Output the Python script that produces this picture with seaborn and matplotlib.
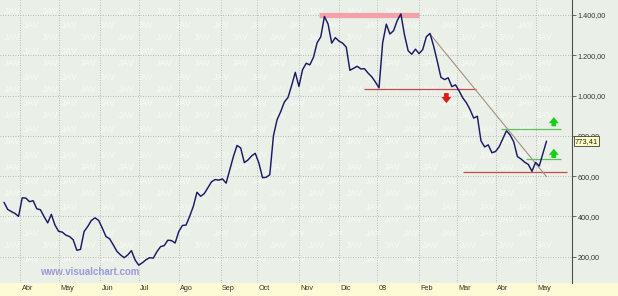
import numpy as np
import pandas as pd
import matplotlib
matplotlib.use("Agg")
import matplotlib.pyplot as plt
import seaborn as sns
from matplotlib.transforms import blended_transform_factory, offset_copy
from matplotlib.patches import Rectangle

# ---------------- data ----------------
start_date = "2007-03-20"      # first session shown
step_sessions = 2              # one reading every two sessions
values = [
    470, 435, 424, 415, 400, 492, 491, 473, 478, 438,
    433, 399, 368, 410, 357, 326, 322, 307, 300, 284,
    232, 236, 325, 350, 380, 393, 380, 342, 300, 289,
    259, 227, 209, 195, 209, 230, 184, 158, 170, 185,
    195, 193, 225, 250, 255, 282, 280, 268, 325, 355,
    357, 401, 450, 520, 500, 513, 543, 572, 583, 580,
    586, 565, 630, 697, 752, 740, 667, 680, 700, 713,
    665, 592, 594, 607, 800, 880, 920, 968, 990, 1050,
    1115, 1045, 1128, 1160, 1152, 1190, 1262, 1291, 1392, 1355,
    1260, 1287, 1270, 1260, 1240, 1125, 1135, 1145, 1132, 1133,
    1111, 1093, 1067, 1038, 1262, 1354, 1305, 1322, 1372, 1405,
    1300, 1222, 1205, 1230, 1208, 1228, 1292, 1308, 1245, 1170,
    1090, 1079, 1088, 1044, 1053, 1023, 988, 964, 930, 888,
    897, 775, 745, 755, 716, 722, 746, 785, 825, 804,
    770, 697, 685, 669, 658, 624, 668, 650, 712, 773.41,
]
last_price = 773.41
month_starts = ["2007-04-01", "2007-05-01", "2007-06-01", "2007-07-01", "2007-08-01",
                "2007-09-01", "2007-10-01", "2007-11-01", "2007-12-01", "2008-01-01",
                "2008-02-01", "2008-03-01", "2008-04-01", "2008-05-01"]
month_labels = ["Abr", "May", "Jun", "Jul", "Ago", "Sep", "Oct", "Nov", "Dic", "08",
                "Feb", "Mar", "Abr", "May"]
y_ticks = [200, 400, 600, 800, 1000, 1200, 1400]

# drawn studies: (start date, end date, level)
resistance_band = ("2007-11-16", "2008-02-01", 1400)
support_1 = ("2007-12-21", "2008-03-17", 1031)
support_2 = ("2008-03-06", "2008-05-26", 619)
green_1 = ("2008-04-04", "2008-05-21", 832)
green_2 = ("2008-04-24", "2008-05-21", 683)
trend_line = (("2008-02-11", 1305), ("2008-05-09", 597))
red_arrow = ("2008-02-22", 1012, 962)
green_arrows = [("2008-05-15", 847, 893), ("2008-05-15", 690, 736)]

# ---------------- helpers ----------------
calendar = pd.bdate_range(start_date, periods=330)
def pos(d):
    return int(np.searchsorted(calendar, pd.Timestamp(d)))

x_idx = np.arange(len(values)) * step_sessions
df = pd.DataFrame({"x": x_idx, "price": values})

def es_fmt(v):
    s = f"{v:,.2f}"
    return s.replace(",", "X").replace(".", ",").replace("X", ".")

# ---------------- style ----------------
sns.set_style("white")
plt.rcParams["font.family"] = ["Liberation Sans", "DejaVu Sans"]

BG = "#eaf0e7"
STRIP = "#fdfbd6"
W, H = 618, 296

fig = plt.figure(figsize=(W / 100, H / 100), dpi=100)
fig.patch.set_facecolor(BG)
fig.patches.append(Rectangle((0, 0), 1, 13 / H, transform=fig.transFigure,
                             facecolor=STRIP, edgecolor="none", zorder=-3))

# faint watermark inside the plotting area
for r, yy in enumerate(np.arange(H - 12, 30, -13)):
    off = 0 if r % 2 == 0 else 19
    for xx in np.arange(4 + off, 545, 38):
        if 30 < xx < 140 and yy < 36:
            continue
        fig.text(xx / W, yy / H, "JAV", color="white", alpha=0.45, fontsize=6.5,
                 fontweight="bold", zorder=-1, ha="left", va="center")

ax = fig.add_axes([0, 13 / H, 572 / W, 283 / H])
ax.set_facecolor("none")

sns.lineplot(data=df, x="x", y="price", ax=ax, color="#1a1a66", linewidth=1.05, zorder=4)

ax.set_xlim(-2.2, 312)
ax.set_ylim(69.5, 1474)

# grid
tick_pos = [pos(d) for d in month_starts]
ax.set_xticks(tick_pos)
ax.set_xticklabels([])
ax.set_yticks(y_ticks)
ax.grid(True, linestyle=(0, (1, 2)), color="#a9a9a9", linewidth=0.6)
ax.tick_params(axis="x", direction="out", length=5, color="#707070", width=0.6)

ax.yaxis.tick_right()
ax.set_yticklabels([es_fmt(v) for v in y_ticks])
ax.tick_params(axis="y", direction="out", length=3, color="#505050", width=0.6,
               labelsize=5.2, labelcolor="#333333", pad=1)

for s in ["top", "left", "bottom"]:
    ax.spines[s].set_visible(False)
ax.spines["right"].set_color("#505050")
ax.spines["right"].set_linewidth(0.8)
ax.set_xlabel("")
ax.set_ylabel("")

# month labels to the right of the tick marks
tr = offset_copy(blended_transform_factory(ax.transData, ax.transAxes), fig=fig, x=1.5, y=-2, units="dots")
for p, lab in zip(tick_pos, month_labels):
    ax.text(p, 0, lab, transform=tr, ha="left", va="top", fontsize=5.2, color="#333333",
            clip_on=False)

# studies
a, b, lvl = resistance_band
ax.hlines(lvl, pos(a), pos(b), color="#f2a2a8", linewidth=3.8, zorder=2)
for (a, b, lvl), col in [(support_1, "#c64a4a"), (support_2, "#c64a4a"),
                         (green_1, "#5cc35c"), (green_2, "#5cc35c")]:
    ax.hlines(lvl, pos(a), pos(b), color=col, linewidth=0.9, zorder=3)
(d0, v0), (d1, v1) = trend_line
ax.plot([pos(d0), pos(d1)], [v0, v1], color="#a38f80", linewidth=0.8, zorder=3)

arrow_style = "simple,head_width=0.9,head_length=0.55,tail_width=0.42"
d, tail, tip = red_arrow
ax.annotate("", xy=(pos(d), tip), xytext=(pos(d), tail),
            arrowprops=dict(arrowstyle=arrow_style, color="#e01818", mutation_scale=8, lw=0,
                            shrinkA=0, shrinkB=0))
for d, tail, tip in green_arrows:
    ax.annotate("", xy=(pos(d), tip), xytext=(pos(d), tail),
                arrowprops=dict(arrowstyle=arrow_style, color="#18d018", mutation_scale=8, lw=0,
                                shrinkA=0, shrinkB=0))

# last price box
ax.text(1.005, last_price, es_fmt(last_price),
        transform=blended_transform_factory(ax.transAxes, ax.transData),
        ha="left", va="center", fontsize=5.4, color="#222222", zorder=10, clip_on=False,
        bbox=dict(boxstyle="square,pad=0.18", facecolor="#ffffc4", edgecolor="#404040", linewidth=0.6))

fig.text(40 / W, (H - 272) / H, "www.visualchart.com", color="#9a9ad8", fontsize=7,
         fontweight="bold", ha="left", va="center")

fig.savefig("out.png", dpi=100, facecolor=fig.get_facecolor())
